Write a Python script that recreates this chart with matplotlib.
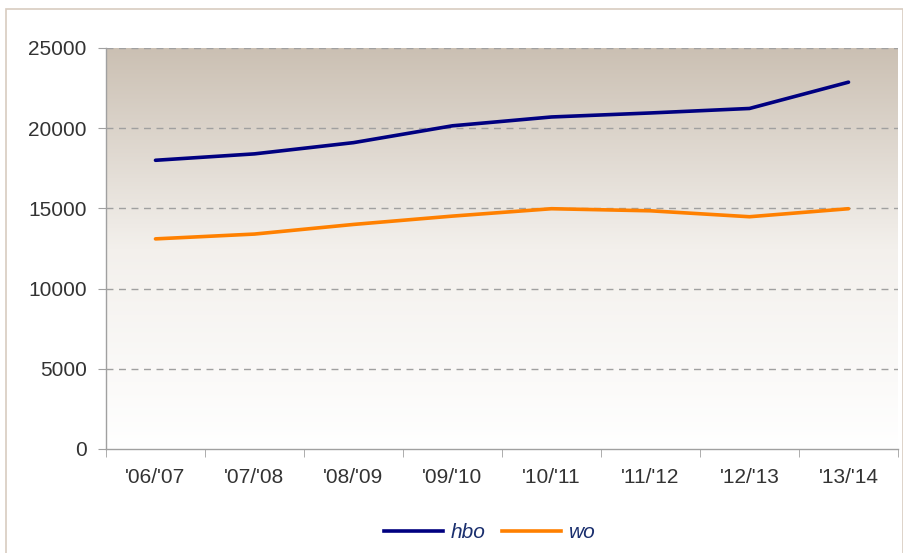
import numpy as np
import matplotlib.pyplot as plt
from matplotlib.patches import Rectangle
from matplotlib.colors import LinearSegmentedColormap
from matplotlib.lines import Line2D

# -----------------------------
# Data
# -----------------------------
years = ["'06/'07", "'07/'08", "'08/'09", "'09/'10", "'10/'11", "'11/'12", "'12/'13", "'13/'14"]
hbo = [18000, 18400, 19100, 20150, 20700, 20950, 21230, 22870]
wo = [13100, 13400, 14000, 14520, 14980, 14850, 14480, 14980]

W, H = 904, 553
plt.rcParams["font.family"] = ["Liberation Sans", "DejaVu Sans"]

fig = plt.figure(figsize=(W / 100, H / 100), dpi=100)
ax = fig.add_axes([106 / W, 1 - 449 / H, 792 / W, 401 / H])

# outer border of the chart
fig.patches.append(Rectangle((6 / W, -0.05), 897 / W, 1 - 9 / H + 0.05,
                             transform=fig.transFigure, fill=False,
                             edgecolor="#d8ccc0", linewidth=1.2))

x = np.arange(len(years))

# gradient background of plot area
cmap = LinearSegmentedColormap.from_list("bg", ["#ffffff", "#f3f0ec", "#cbc0b3"])
grad = np.linspace(0, 1, 256).reshape(-1, 1)
ax.imshow(grad, cmap=cmap, aspect="auto", origin="lower",
          extent=(-0.5, len(years) - 0.5, 0, 25000), zorder=0)

for yv in [5000, 10000, 15000, 20000, 25000]:
    ax.axhline(yv, color="#a0a0a0", linestyle=(0, (5, 4)), linewidth=1.0, zorder=1)

ax.plot(x, hbo, color="#000080", linewidth=2.6, solid_capstyle="round", zorder=3)
ax.plot(x, wo, color="#ff8000", linewidth=2.6, solid_capstyle="round", zorder=3)

ax.set_xlim(-0.5, len(years) - 0.5)
ax.set_ylim(0, 25000)
ax.set_yticks([0, 5000, 10000, 15000, 20000, 25000])
ax.set_xticks(x)
ax.set_xticklabels(years)
ax.set_xticks(np.arange(-0.5, len(years)), minor=True)
ax.tick_params(axis="x", which="major", length=0, pad=14, labelsize=15, labelcolor="#333333")
ax.tick_params(axis="x", which="minor", length=6, color="#a0a0a0", direction="out")
ax.tick_params(axis="y", length=6, color="#a0a0a0", pad=8, labelsize=15, labelcolor="#333333")

for s in ["top", "right"]:
    ax.spines[s].set_visible(False)
for s in ["left", "bottom"]:
    ax.spines[s].set_color("#a0a0a0")
    ax.spines[s].set_linewidth(1.0)

handles = [Line2D([], [], color="#000080", linewidth=2.6),
           Line2D([], [], color="#ff8000", linewidth=2.6)]
leg = fig.legend(handles, ["hbo", "wo"], loc="center", bbox_to_anchor=(490 / W, 1 - 533 / H),
                 ncol=2, frameon=False, handlelength=2.8, handletextpad=0.4,
                 columnspacing=0.8, prop={"size": 15, "style": "italic"})
for t in leg.get_texts():
    t.set_color("#1a2f6e")

plt.savefig("out.png", dpi=100)
